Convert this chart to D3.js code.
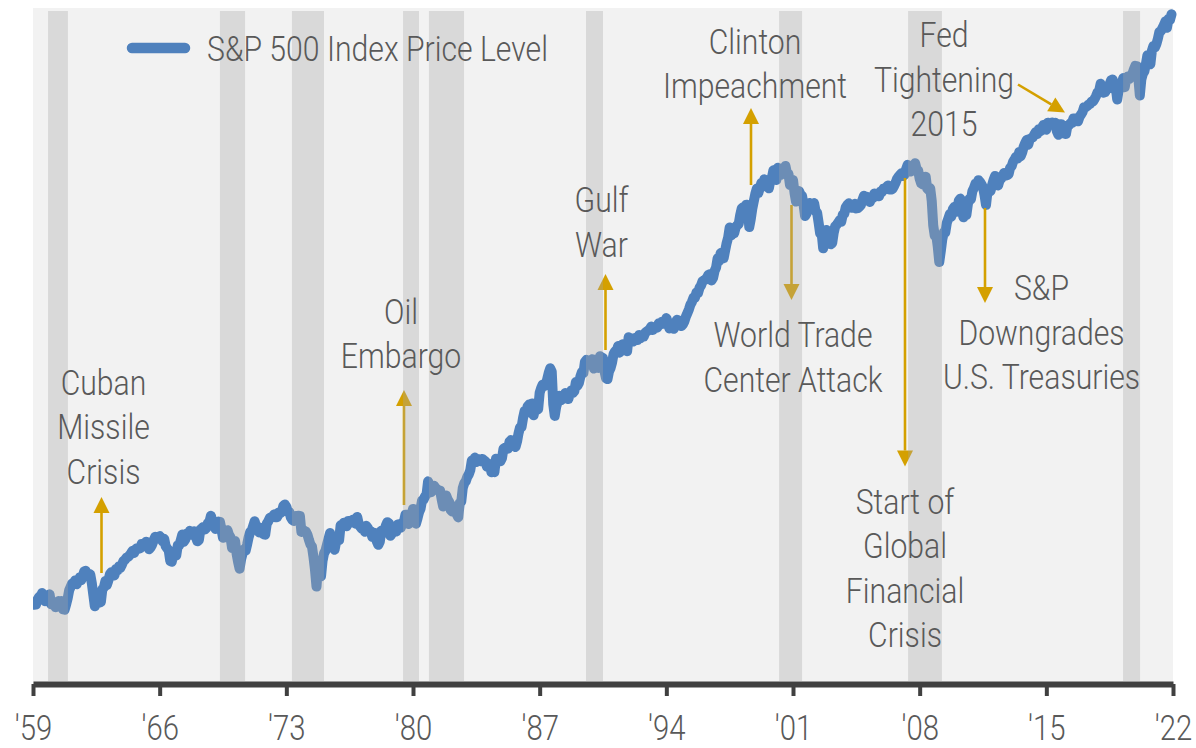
<!DOCTYPE html>
<html><head><meta charset="utf-8">
<script src="https://cdn.jsdelivr.net/npm/d3@7"></script>
<style>
html,body{margin:0;padding:0;background:#fff;}
svg{display:block;}
text{font-family:Roboto,"Liberation Sans",sans-serif;font-weight:300;fill:#595959;}
</style></head><body>
<svg id="chart" width="1196" height="748"></svg>
<script>
// ---------- DATA ----------
const firstYear = 1959;            // monthly closes start Jan 1959
const sp500Close = [
/*1959*/ 55.42,55.41,55.44,57.59,58.68,58.47,60.51,59.60,56.88,57.52,58.28,59.89,
/*1960*/ 55.61,56.12,55.34,54.37,55.83,56.92,55.51,56.96,53.52,53.39,55.54,58.11,
/*1961*/ 61.78,63.44,65.06,65.31,66.56,64.64,66.76,68.07,66.73,68.62,71.32,71.55,
/*1962*/ 68.84,69.96,69.55,65.24,59.63,54.75,58.23,59.12,56.27,56.52,62.26,63.10,
/*1963*/ 66.20,64.29,66.57,69.80,70.80,69.37,69.13,72.50,71.70,74.01,73.23,75.02,
/*1964*/ 77.04,77.80,78.98,79.46,80.37,81.69,83.18,81.83,84.18,84.86,84.42,84.75,
/*1965*/ 87.56,87.43,86.16,89.11,88.42,84.12,85.25,87.17,89.96,92.42,91.61,92.43,
/*1966*/ 92.88,91.22,89.23,91.06,86.13,84.74,83.60,77.10,76.56,80.20,80.45,80.33,
/*1967*/ 86.61,86.78,90.20,94.01,89.08,90.64,94.75,93.64,96.71,93.90,94.00,96.47,
/*1968*/ 92.24,89.36,90.20,97.59,98.68,99.58,97.74,98.86,102.67,103.41,108.37,103.86,
/*1969*/ 103.01,98.13,101.51,103.69,103.46,97.71,91.83,95.51,93.12,97.24,93.81,92.06,
/*1970*/ 85.02,89.50,89.63,81.52,76.55,72.72,78.05,81.52,84.21,83.25,87.20,92.15,
/*1971*/ 95.88,96.75,100.31,103.95,99.63,99.70,95.58,99.03,98.34,94.23,93.99,102.09,
/*1972*/ 103.94,106.57,107.20,107.67,109.53,107.14,107.39,111.09,110.55,111.58,116.67,118.05,
/*1973*/ 116.03,111.68,111.52,106.97,104.95,104.26,108.22,104.25,108.43,108.29,95.96,97.55,
/*1974*/ 96.57,96.22,93.98,90.31,87.28,86.00,79.31,72.15,63.54,73.90,69.97,68.56,
/*1975*/ 76.98,81.59,83.36,87.30,91.15,95.19,88.75,86.88,83.87,89.04,91.24,90.19,
/*1976*/ 100.86,99.71,102.77,101.64,100.18,104.28,103.44,102.91,105.24,102.90,102.10,107.46,
/*1977*/ 102.03,99.82,98.42,98.44,96.12,100.48,98.85,96.77,96.53,92.34,94.83,95.10,
/*1978*/ 89.25,87.04,89.21,96.83,97.24,95.53,100.68,103.29,102.54,93.15,94.70,96.11,
/*1979*/ 99.93,96.28,101.59,101.76,99.08,102.91,103.81,109.32,109.32,101.82,106.16,107.94,
/*1980*/ 114.16,113.66,102.09,106.29,111.24,114.24,121.67,122.38,125.46,127.47,140.52,135.76,
/*1981*/ 129.55,131.27,136.00,132.81,132.59,131.21,130.92,122.79,116.18,121.89,126.35,122.55,
/*1982*/ 120.40,113.11,111.96,116.44,111.88,109.61,107.09,119.51,120.42,133.71,138.54,140.64,
/*1983*/ 145.30,148.06,152.96,164.42,162.39,168.11,162.56,164.40,166.07,163.55,166.40,164.93,
/*1984*/ 163.41,157.06,159.18,160.05,150.55,153.18,150.66,166.68,166.10,166.09,163.58,167.24,
/*1985*/ 179.63,181.18,180.66,179.83,189.55,191.85,190.92,188.63,182.08,189.82,202.17,211.28,
/*1986*/ 211.78,226.92,238.90,235.52,247.35,250.84,236.12,252.93,231.32,243.98,249.22,242.17,
/*1987*/ 274.08,284.20,291.70,288.36,290.10,304.00,318.66,329.80,321.83,251.79,230.30,247.08,
/*1988*/ 257.07,267.82,258.89,261.33,262.16,273.50,272.02,261.52,271.91,278.97,273.70,277.72,
/*1989*/ 297.47,288.86,294.87,309.64,320.52,317.98,346.08,351.45,349.15,340.36,345.99,353.40,
/*1990*/ 329.08,331.89,339.94,330.80,361.23,358.02,356.15,322.56,306.05,304.00,322.22,330.22,
/*1991*/ 343.93,367.07,375.22,375.35,389.83,371.16,387.81,395.43,387.86,392.46,375.22,417.09,
/*1992*/ 408.79,412.70,403.69,414.95,415.35,408.14,424.21,414.03,417.80,418.68,431.35,435.71,
/*1993*/ 438.78,443.38,451.67,440.19,450.19,450.53,448.13,463.56,458.93,467.83,461.79,466.45,
/*1994*/ 481.61,467.14,445.77,450.91,456.50,444.27,458.26,475.49,462.69,472.35,453.69,459.27,
/*1995*/ 470.42,487.39,500.71,514.71,533.40,544.75,562.06,561.88,584.41,581.50,605.37,615.93,
/*1996*/ 636.02,640.43,645.50,654.17,669.12,670.63,639.95,651.99,687.31,705.27,757.02,740.74,
/*1997*/ 786.16,790.82,757.12,801.34,848.28,885.14,954.29,899.47,947.28,914.62,955.40,970.43,
/*1998*/ 980.28,1049.34,1101.75,1111.75,1090.82,1133.84,1120.67,957.28,1017.01,1098.67,1163.63,1229.23,
/*1999*/ 1279.64,1238.33,1286.37,1335.18,1301.84,1372.71,1328.72,1320.41,1282.71,1362.93,1388.91,1469.25,
/*2000*/ 1394.46,1366.42,1498.58,1452.43,1420.60,1454.60,1430.83,1517.68,1436.51,1429.40,1314.95,1320.28,
/*2001*/ 1366.01,1239.94,1160.33,1249.46,1255.82,1224.42,1211.23,1133.58,1040.94,1059.78,1139.45,1148.08,
/*2002*/ 1130.20,1106.73,1147.39,1076.92,1067.14,989.82,911.62,916.07,815.28,885.76,936.31,879.82,
/*2003*/ 855.70,841.15,848.18,916.92,963.59,974.50,990.31,1008.01,995.97,1050.71,1058.20,1111.92,
/*2004*/ 1131.13,1144.94,1126.21,1107.30,1120.68,1140.84,1101.72,1104.24,1114.58,1130.20,1173.82,1211.92,
/*2005*/ 1181.27,1203.60,1180.59,1156.85,1191.50,1191.33,1234.18,1220.33,1228.81,1207.01,1249.48,1248.29,
/*2006*/ 1280.08,1280.66,1294.83,1310.61,1270.09,1270.20,1276.66,1303.82,1335.85,1377.94,1400.63,1418.30,
/*2007*/ 1438.24,1406.82,1420.86,1482.37,1530.62,1503.35,1455.27,1473.99,1526.75,1549.38,1481.14,1468.36,
/*2008*/ 1378.55,1330.63,1322.70,1385.59,1400.38,1280.00,1267.38,1282.83,1166.36,968.75,896.24,903.25,
/*2009*/ 825.88,735.09,797.87,872.81,919.14,919.32,987.48,1020.62,1057.08,1036.19,1095.63,1115.10,
/*2010*/ 1073.87,1104.49,1169.43,1186.69,1089.41,1030.71,1101.60,1049.33,1141.20,1183.26,1180.55,1257.64,
/*2011*/ 1286.12,1327.22,1325.83,1363.61,1345.20,1320.64,1292.28,1218.89,1131.42,1253.30,1246.96,1257.60,
/*2012*/ 1312.41,1365.68,1408.47,1397.91,1310.33,1362.16,1379.32,1406.58,1440.67,1412.16,1416.18,1426.19,
/*2013*/ 1498.11,1514.68,1569.19,1597.57,1630.74,1606.28,1685.73,1632.97,1681.55,1756.54,1805.81,1848.36,
/*2014*/ 1782.59,1859.45,1872.34,1883.95,1923.57,1960.23,1930.67,2003.37,1972.29,2018.05,2067.56,2058.90,
/*2015*/ 1994.99,2104.50,2067.89,2085.51,2107.39,2063.11,2103.84,1972.18,1920.03,2079.36,2080.41,2043.94,
/*2016*/ 1940.24,1932.23,2059.74,2065.30,2096.95,2098.86,2173.60,2170.95,2168.27,2126.15,2198.81,2238.83,
/*2017*/ 2278.87,2363.64,2362.72,2384.20,2411.80,2423.41,2470.30,2471.65,2519.36,2575.26,2647.58,2673.61,
/*2018*/ 2823.81,2713.83,2640.87,2648.05,2705.27,2718.37,2816.29,2901.52,2913.98,2711.74,2760.17,2506.85,
/*2019*/ 2704.10,2784.49,2834.40,2945.83,2752.06,2941.76,2980.38,2926.46,2976.74,3037.56,3140.98,3230.78,
/*2020*/ 3225.52,2954.22,2584.59,2912.43,3044.31,3100.29,3271.12,3500.31,3363.00,3269.96,3621.63,3756.07,
/*2021*/ 3714.24,3811.15,3972.89,4181.17,4204.11,4297.50,4395.26,4522.68,4307.54,4605.38,4567.00,4766.18
];
// recession periods (decimal years, as shaded in the chart)
const recessionStart = [1959.83, 1969.33, 1973.31, 1979.45, 1980.88, 1989.56, 2000.23, 2007.36, 2019.24];
const recessionEnd   = [1960.93, 1970.72, 1975.08, 1980.33, 1982.82, 1990.50, 2001.50, 2009.23, 2020.18];
const tickYears = [1959, 1966, 1973, 1980, 1987, 1994, 2001, 2008, 2015, 2022];
const seriesName = "S&P 500 Index Price Level";
const annotationTexts = [
  ["Cuban","Missile","Crisis"],
  ["Oil","Embargo"],
  ["Gulf","War"],
  ["Clinton","Impeachment"],
  ["World Trade","Center Attack"],
  ["Start of","Global","Financial","Crisis"],
  ["S&P","Downgrades","U.S. Treasuries"],
  ["Fed","Tightening","2015"]
];

// ---------- LAYOUT ----------
const W = 1196, H = 748;
const plot = {left:33, right:1173, top:8, bottom:684};
const lineH = 44.5, fs = 36;
const annLayout = [
  {cx:103.5, by:395,   arrow:[101.5,573, 101.5,497]},
  {cx:401,   by:324,   arrow:[404,505, 404,390]},
  {cx:601.5, by:212.5, arrow:[605.5,350, 605.5,274]},
  {cx:755,   by:54,    arrow:[751,185, 751,108]},
  {cx:793,   by:347.5, arrow:[791.5,205, 791.5,300]},
  {cx:905,   by:514,   arrow:[905,178, 905,466.5]},
  {cx:1041.5,by:300.5, arrow:[985,208, 985,303]},
  {cx:944,   by:47.5,  arrow:[1018,84.5, 1065,112.5]}
];
const blue = "#4F81BD", gold = "#D4A000";

const svg = d3.select("#chart");
const x = d3.scaleLinear().domain([1959, 2022]).range([plot.left, plot.right]);
const y = d3.scaleLog().domain([30, 5000]).range([686, plot.top]);

// horizontal condensing factor so the installed font matches the condensed face
const probe = svg.append("text").attr("font-size",fs).text("World Trade");
const kx = 159 / probe.node().getComputedTextLength();
probe.remove();

svg.append("rect").attr("x",0).attr("y",0).attr("width",W).attr("height",H).attr("fill","#fff");
svg.append("rect").attr("x",plot.left).attr("y",plot.top)
  .attr("width",plot.right-plot.left).attr("height",plot.bottom-plot.top).attr("fill","#F2F2F2");

const series = sp500Close.map((v,i)=>({t: firstYear + i/12, v}));
svg.append("clipPath").attr("id","clipL").append("rect")
  .attr("x",plot.left).attr("y",0).attr("width",W-plot.left).attr("height",H);
svg.append("path").datum(series)
  .attr("clip-path","url(#clipL)")
  .attr("d", d3.line().x(d=>x(d.t)).y(d=>y(d.v)))
  .attr("fill","none").attr("stroke",blue).attr("stroke-width",10)
  .attr("stroke-linejoin","round").attr("stroke-linecap","round");

// arrows
const arrows = svg.append("g");
annLayout.forEach(a=>{
  const [x1,y1,x2,y2] = a.arrow;
  const dx=x2-x1, dy=y2-y1, L=Math.hypot(dx,dy), ux=dx/L, uy=dy/L;
  const hl=16, hw=8;
  const bx=x2-ux*hl, by=y2-uy*hl;
  arrows.append("line").attr("x1",x1).attr("y1",y1).attr("x2",bx).attr("y2",by)
    .attr("stroke",gold).attr("stroke-width",2.6);
  arrows.append("path")
    .attr("d",`M${x2},${y2}L${bx-uy*hw},${by+ux*hw}L${bx+uy*hw},${by-ux*hw}Z`)
    .attr("fill",gold);
});

// recession shading (on top, translucent)
svg.append("g").selectAll("rect").data(recessionStart).join("rect")
  .attr("x",(d)=>x(d)).attr("width",(d,i)=>x(recessionEnd[i])-x(d))
  .attr("y",11).attr("height",681-11)
  .attr("fill","rgb(166,166,166)").attr("fill-opacity",0.33);

// annotation text
annotationTexts.forEach((lines,i)=>{
  const a = annLayout[i];
  const g = svg.append("g").attr("transform",`translate(${a.cx},0) scale(${kx},1)`);
  const t = g.append("text").attr("text-anchor","middle").attr("font-size",fs);
  lines.forEach((s,j)=>t.append("tspan").attr("x",0).attr("y",a.by+j*lineH).text(s));
});

// legend
svg.append("line").attr("x1",132).attr("x2",185).attr("y1",48).attr("y2",48)
  .attr("stroke",blue).attr("stroke-width",10.5).attr("stroke-linecap","round");
svg.append("g").attr("transform",`translate(207,0) scale(${kx},1)`)
  .append("text").attr("x",0).attr("y",61).attr("font-size",fs).text(seriesName);

// axis
const axis = d3.axisBottom(x).tickValues(tickYears)
  .tickFormat(d=>"'"+String(d).slice(2)).tickSize(12).tickSizeOuter(0).tickPadding(0);
const gx = svg.append("g").attr("transform",`translate(0,${plot.bottom})`).call(axis);
gx.attr("font-family",null).attr("font-size",null);
gx.select(".domain").attr("stroke","#404040").attr("stroke-width",6);
gx.selectAll(".tick line").attr("stroke","#404040").attr("stroke-width",4);
gx.selectAll(".tick text").attr("y",56).attr("dy",0).attr("font-size",35)
  .attr("fill","#595959").attr("transform",`scale(${kx},1)`);
</script>
</body></html>
